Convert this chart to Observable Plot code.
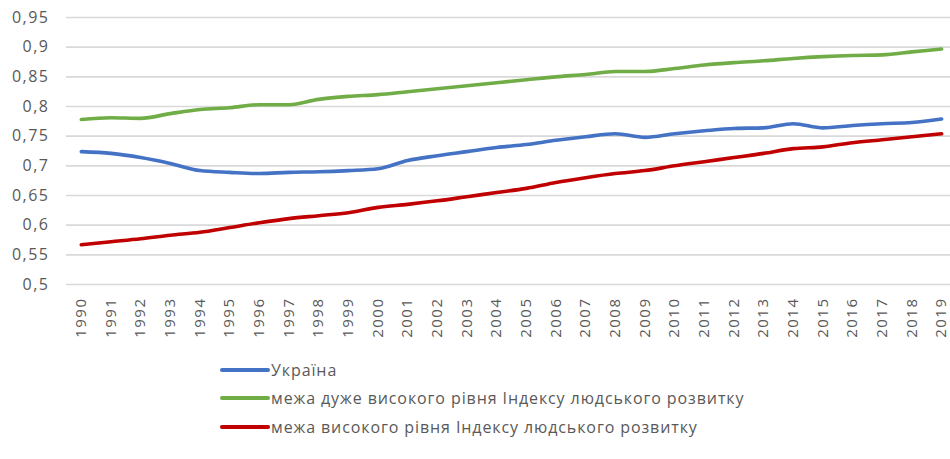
<!DOCTYPE html>
<html><head><meta charset="utf-8">
<script src="https://cdn.jsdelivr.net/npm/d3@7"></script>
<script src="https://cdn.jsdelivr.net/npm/@observablehq/plot@0.6"></script>
<style>
body{margin:0;background:#fff;font-family:"Open Sans",sans-serif;}
#legend{position:relative;height:114px;}
.item{position:absolute;left:220px;display:flex;align-items:center;font-size:16px;letter-spacing:0.9px;color:#595959;height:22px;}
.sw{width:50px;height:4px;margin-right:1px;border-radius:2px;}
.yt{letter-spacing:1.5px;}
</style></head><body>
<div id="chart"></div>
<div id="legend"></div>
<script>
const years = d3.range(1990, 2020);
const seriesNames = ["Україна","межа дуже високого рівня Індексу людського розвитку","межа високого рівня Індексу людського розвитку"];
const ukraine = [0.724,0.721,0.714,0.704,0.692,0.689,0.687,0.689,0.690,0.692,0.695,0.709,0.717,0.724,0.731,0.736,0.743,0.749,0.754,0.748,0.754,0.759,0.763,0.764,0.771,0.764,0.768,0.771,0.773,0.779];
const veryHigh = [0.778,0.781,0.780,0.788,0.795,0.798,0.803,0.803,0.812,0.817,0.820,0.825,0.830,0.835,0.840,0.845,0.850,0.854,0.859,0.859,0.864,0.870,0.874,0.877,0.881,0.884,0.886,0.887,0.892,0.897];
const high = [0.567,0.572,0.577,0.583,0.588,0.596,0.604,0.611,0.616,0.621,0.630,0.635,0.641,0.648,0.655,0.662,0.672,0.680,0.687,0.692,0.700,0.707,0.714,0.721,0.729,0.732,0.739,0.744,0.749,0.754];
const yTicks = [0.5,0.55,0.6,0.65,0.7,0.75,0.8,0.85,0.9,0.95];
const colors = ["#4472C4","#70AD47","#C00000"];

const data = [];
[ukraine, veryHigh, high].forEach((arr, s) => arr.forEach((v, i) => data.push({year: years[i], value: v, series: seriesNames[s]})));

const fmt = v => String(+v.toFixed(2)).replace(".", ",");

const chart = Plot.plot({
  width: 950, height: 345,
  marginLeft: 66, marginRight: 0, marginTop: 17, marginBottom: 61,
  style: {fontFamily: "Open Sans, sans-serif", color: "#595959", background: "#fff"},
  x: {type: "linear", domain: [1989.5, 2019.3], axis: null},
  y: {domain: [0.5, 0.95], axis: null},
  color: {domain: seriesNames, range: colors},
  marks: [
    Plot.ruleY(yTicks, {stroke: "#d9d9d9", strokeWidth: 1.6, x1: 1989.5, x2: 2019.3}),
    Plot.text(yTicks, {x: 1989.5, y: d => d, text: fmt, textAnchor: "end", dx: -17, fontSize: 16, fill: "#595959", className: "yt"}),
    Plot.text(years, {x: d => d, y: 0.5, text: d => String(d), rotate: -90, textAnchor: "end", lineAnchor: "middle", dy: 13, fontSize: 15, fill: "#595959", className: "yt"}),
    Plot.line(data, {x: "year", y: "value", stroke: "series", z: "series", strokeWidth: 3.6, curve: "monotone-x"})
  ]
});
document.getElementById("chart").appendChild(chart);

const legend = document.getElementById("legend");
const centers = [25, 53, 82];
seriesNames.forEach((n, i) => {
  const d = document.createElement("div");
  d.className = "item";
  d.style.top = (centers[i] - 11) + "px";
  d.innerHTML = `<div class="sw" style="background:${colors[i]}"></div><span>${n}</span>`;
  legend.appendChild(d);
});
</script>
</body></html>
